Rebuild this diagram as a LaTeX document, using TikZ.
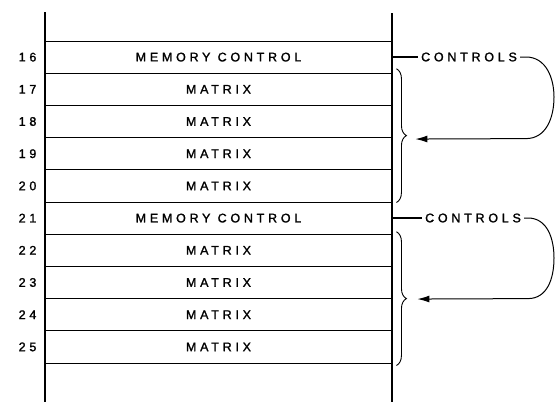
\documentclass[tikz,border=0pt]{standalone}
\usepackage{fontspec}
\newfontfamily\lblfont{Liberation Sans}[LetterSpace=30, FakeBold=1.5]
\usetikzlibrary{arrows.meta, positioning, calc, decorations.pathreplacing}

\begin{document}
\begin{tikzpicture}[x=1pt, y=1pt,
  every node/.style={font=\lblfont\fontsize{12.5}{14}\selectfont},
  row/.style={draw, line width=0.9pt, minimum width=347pt, minimum height=32.2pt, inner sep=0pt},
  num/.style={inner sep=0pt},
  ctl/.style={inner sep=3pt},
  rail/.style={line width=2.4pt},
  loop/.style={line width=1pt, -{Latex[length=12pt,width=7pt]}},
  grp/.style={line width=0.9pt, decorate, decoration={brace, amplitude=10pt}}]
\useasboundingbox (0,0) rectangle (556,-402);

% memory rows
\foreach \n/\txt in {16/MEMORY CONTROL, 17/MATRIX, 18/MATRIX, 19/MATRIX, 20/MATRIX,
                     21/MEMORY CONTROL, 22/MATRIX, 23/MATRIX, 24/MATRIX, 25/MATRIX} {
  \node[row] (r\n) at (218.5,{-57.1-32.2*(\n-16)}) {\txt};
  \node[num, left=8pt of r\n.west] (n\n) {\n};
}

% side rails
\draw[rail] (45,-12) -- (45,-402);
\draw[rail] (392,-13) -- (392,-402);

% braces
\draw[grp] ($(r17.north east)+(4,4)$) -- ($(r20.south east)+(4,0)$);
\draw[grp] ($(r22.north east)+(4,2)$) -- ($(r25.south east)+(4,-2)$);

% control loops
\node[ctl] (ctlA) at (469,-57) {CONTROLS};
\node[ctl] (ctlB) at (473,-218) {CONTROLS};
\coordinate (tipA) at ($(r18.south east)+(23,-1)$);
\coordinate (tipB) at ($(r23.south east)+(25,0)$);

\draw[line width=1.1pt] (ctlA.west) -- (ctlA.west -| r16.east);
\draw[line width=1.1pt] (ctlB.west) -- (ctlB.west -| r21.east);

\draw[loop] (ctlA.east) -- (526,-57) .. controls (546,-57) and (554,-78) .. (554,-97)
  .. controls (554,-118) and (546,-138.6) .. (526,-138.6) -- (tipA);
\draw[loop] (ctlB.east) -- (528,-218) .. controls (547,-218) and (554,-238) .. (554,-258)
  .. controls (554,-279) and (547,-298.6) .. (528,-298.6) -- (tipB);
\end{tikzpicture}
\end{document}
